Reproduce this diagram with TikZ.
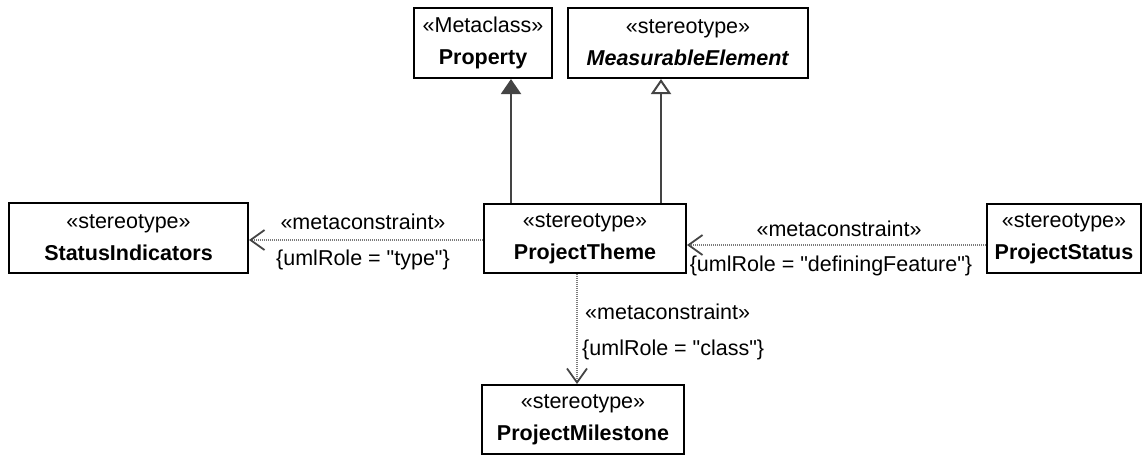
\documentclass[tikz,border=0pt]{standalone}
\usepackage{fontspec}
\setmainfont{Liberation Sans}
\newfontfamily\plainsans{Liberation Sans}
\usetikzlibrary{arrows.meta,calc}
\definecolor{genline}{HTML}{444444}
\definecolor{dotline}{HTML}{7A7A7A}
\tikzset{
  umlbox/.style={draw=black, line width=2pt, align=center, inner sep=0pt,
    font=\fontsize{21.5}{32}\selectfont},
  lbl/.style={font=\plainsans\fontsize{21.5}{25}\selectfont, inner sep=0pt},
  genfilled/.style={draw=genline, line width=2pt,
    -{Triangle[length=15pt,width=20pt,fill=genline]}},
  genopen/.style={draw=genline, line width=2pt,
    -{Triangle[open,length=15pt,width=20pt,fill=white]}},
  metac/.style={draw=dotline, line width=1.6pt, dash pattern=on 1pt off 1pt,
    -{Straight Barb[length=14pt,width=20pt,line width=1.8pt,color=genline]}},
}
\begin{document}
\begin{tikzpicture}[x=1pt,y=-1pt]
\useasboundingbox (0,0) rectangle (1142,456);
\node[umlbox, minimum width=138pt, minimum height=70pt] (prop) at (483,43)
  {«Metaclass»\\\textbf{Property}};
\node[umlbox, minimum width=240pt, minimum height=70pt] (meas) at (688,43)
  {«stereotype»\\\textbf{\textit{MeasurableElement}}};
\node[umlbox, minimum width=239pt, minimum height=70pt] (si) at (128.5,238)
  {«stereotype»\\\textbf{StatusIndicators}};
\node[umlbox, minimum width=202pt, minimum height=69pt] (pt) at (585,238.5)
  {«stereotype»\\\textbf{ProjectTheme}};
\node[umlbox, minimum width=154pt, minimum height=69pt] (ps) at (1064,238.5)
  {«stereotype»\\\textbf{ProjectStatus}};
\node[umlbox, minimum width=202pt, minimum height=69pt] (pm) at (583,419.5)
  {«stereotype»\\\textbf{ProjectMilestone}};

\draw[genfilled] ([xshift=28pt]pt.north west) -- ([xshift=28pt]pt.north west |- prop.south);
\draw[genopen] ([xshift=-26pt]pt.north east) -- ([xshift=-26pt]pt.north east |- meas.south);

\draw[metac] ([yshift=-1.5pt]pt.west) -- ([yshift=-1.5pt]pt.west -| si.east);
\node[lbl] (l1a) at (363,222) {«metaconstraint»};
\node[lbl] (l1b) at (363,260) {\{umlRole = "type"\}};

\draw[metac] ([yshift=-6.5pt]ps.west) -- ([yshift=-6.5pt]ps.west -| pt.east);
\node[lbl] (l2a) at (839,229) {«metaconstraint»};
\node[lbl] (l2b) at (831,266) {\{umlRole = "definingFeature"\}};

\draw[metac] ([xshift=-8pt]pt.south) -- ([xshift=-8pt]pt.south |- pm.north);
\node[lbl, anchor=west] (l3a) at (585,312) {«metaconstraint»};
\node[lbl, anchor=west] (l3b) at (582,350) {\{umlRole = "class"\}};
\end{tikzpicture}
\end{document}
